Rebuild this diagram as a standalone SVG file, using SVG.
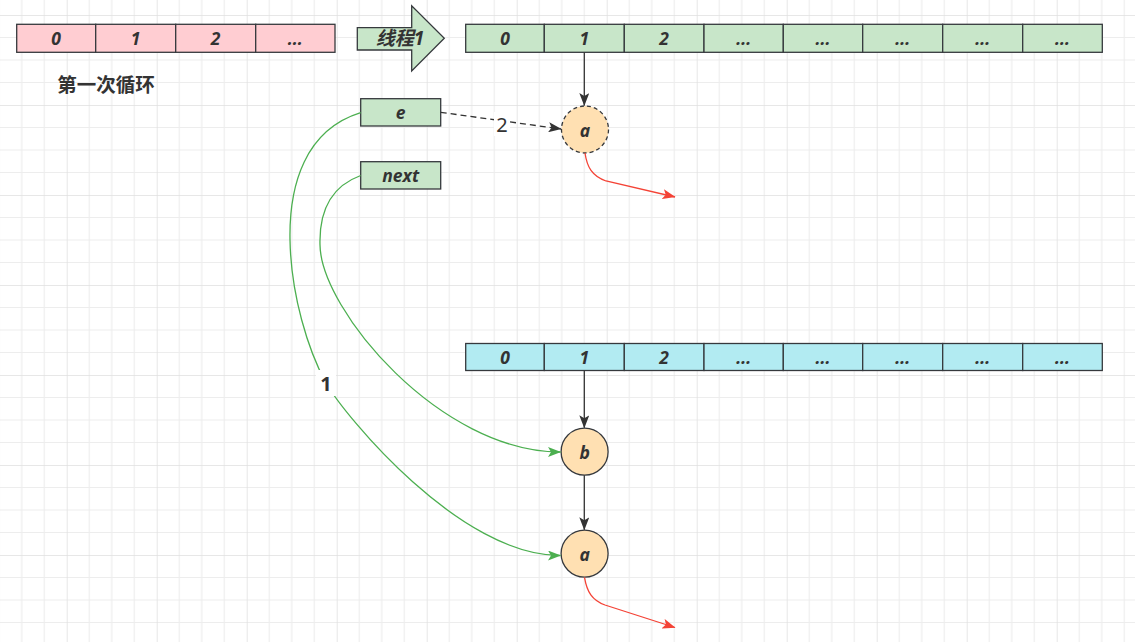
<svg xmlns="http://www.w3.org/2000/svg" width="1135" height="642" viewBox="0 0 1135 642">
<defs>
<pattern id="grid" patternUnits="userSpaceOnUse" x="-23.3" y="15" width="90" height="90">
<path d="M22.5,0V90M45,0V90M67.5,0V90M0,22.5H90M0,45H90M0,67.5H90" stroke="#ededed" stroke-width="1.2" fill="none"/>
<path d="M0,0V90M0,0H90" stroke="#e0e0e0" stroke-width="1.5" fill="none"/>
</pattern>
<marker id="ab" viewBox="0 0 13 10" refX="12.5" refY="5" markerWidth="13" markerHeight="10" markerUnits="userSpaceOnUse" orient="auto">
<path d="M0,0L13,5L0,10L3,5Z" fill="#333"/>
</marker>
<marker id="ag" viewBox="0 0 13 10" refX="12.5" refY="5" markerWidth="13" markerHeight="10" markerUnits="userSpaceOnUse" orient="auto">
<path d="M0,0L13,5L0,10L3,5Z" fill="#4caf50"/>
</marker>
<marker id="ar" viewBox="0 0 13 10" refX="12.5" refY="5" markerWidth="13" markerHeight="10" markerUnits="userSpaceOnUse" orient="auto">
<path d="M0,0L13,5L0,10L3,5Z" fill="#f44336"/>
</marker>
</defs>
<style>
.cell{stroke:#36393d;stroke-width:1.3}
.pink{fill:#ffcdd2}
.green{fill:#c8e6c9}
.cyan{fill:#b2ebf2}
.node{fill:#ffe0b2;stroke:#36393d;stroke-width:1.3}
.t{font-family:"Noto Sans","Noto Sans CJK SC",sans-serif;font-size:17.5px;font-weight:bold;font-style:italic;fill:#333;text-anchor:middle;dominant-baseline:central}
.lbl{font-family:"Noto Sans","Noto Sans CJK SC",sans-serif;font-size:20px;fill:#333;text-anchor:middle;dominant-baseline:central}
.e{fill:none;stroke-width:1.3}
</style>
<rect width="1135" height="642" fill="#fff"/>
<rect width="1135" height="642" fill="url(#grid)"/>

<g id="arr-first">
<rect class="cell pink" x="16.7" y="24.3" width="79" height="28"/>
<rect class="cell pink" x="95.7" y="24.3" width="80" height="28"/>
<rect class="cell pink" x="175.7" y="24.3" width="80" height="28"/>
<rect class="cell pink" x="255.7" y="24.3" width="79.3" height="28"/>
<text class="t" x="56.2" y="38.3">0</text>
<text class="t" x="135.7" y="38.3">1</text>
<text class="t" x="215.7" y="38.3">2</text>
<text class="t" x="295.3" y="38.3">...</text>
</g>

<g id="title">
<text x="106" y="83" style="font-family:'Noto Sans CJK SC',sans-serif;font-size:19.5px;font-weight:bold;fill:#333;text-anchor:middle;dominant-baseline:central">第一次循环</text>
</g>

<g id="thread-arrow">
<polygon class="cell green" points="357.3,27.7 411.7,27.7 411.7,5.7 444.3,38.3 411.7,71 411.7,50 357.3,50"/>
<text class="t" x="400" y="38.3" style="font-size:19px">线程1</text>
</g>

<g id="arr-top">
<rect class="cell green" x="465.7" y="24.3" width="78.6" height="28"/>
<rect class="cell green" x="544.3" y="24.3" width="80" height="28"/>
<rect class="cell green" x="624.3" y="24.3" width="79.7" height="28"/>
<rect class="cell green" x="704" y="24.3" width="79.3" height="28"/>
<rect class="cell green" x="783.3" y="24.3" width="79.4" height="28"/>
<rect class="cell green" x="862.7" y="24.3" width="80" height="28"/>
<rect class="cell green" x="942.7" y="24.3" width="80" height="28"/>
<rect class="cell green" x="1022.7" y="24.3" width="79.6" height="28"/>
<text class="t" x="505" y="38.3">0</text>
<text class="t" x="584.3" y="38.3">1</text>
<text class="t" x="664.2" y="38.3">2</text>
<text class="t" x="743.7" y="38.3">...</text>
<text class="t" x="823" y="38.3">...</text>
<text class="t" x="902.7" y="38.3">...</text>
<text class="t" x="982.7" y="38.3">...</text>
<text class="t" x="1062.5" y="38.3">...</text>
</g>

<g id="arr-bottom">
<rect class="cell cyan" x="465.7" y="343.5" width="78.6" height="27"/>
<rect class="cell cyan" x="544.3" y="343.5" width="80" height="27"/>
<rect class="cell cyan" x="624.3" y="343.5" width="79.7" height="27"/>
<rect class="cell cyan" x="704" y="343.5" width="79.3" height="27"/>
<rect class="cell cyan" x="783.3" y="343.5" width="79.4" height="27"/>
<rect class="cell cyan" x="862.7" y="343.5" width="80" height="27"/>
<rect class="cell cyan" x="942.7" y="343.5" width="80" height="27"/>
<rect class="cell cyan" x="1022.7" y="343.5" width="79.6" height="27"/>
<text class="t" x="505" y="357">0</text>
<text class="t" x="584.3" y="357">1</text>
<text class="t" x="664.2" y="357">2</text>
<text class="t" x="743.7" y="357">...</text>
<text class="t" x="823" y="357">...</text>
<text class="t" x="902.7" y="357">...</text>
<text class="t" x="982.7" y="357">...</text>
<text class="t" x="1062.5" y="357">...</text>
</g>

<g id="var-e">
<rect class="cell green" x="360.7" y="98.7" width="80" height="27.3"/>
<text class="t" x="400.7" y="112.3">e</text>
</g>
<g id="var-next">
<rect class="cell green" x="360.7" y="161.7" width="80" height="27.3"/>
<text class="t" x="400.7" y="175.3">next</text>
</g>

<g id="node-a-top">
<circle class="node" cx="585" cy="129.5" r="23.5" stroke-dasharray="4 3"/>
<text class="t" x="585" y="129.5">a</text>
</g>
<g id="node-b">
<circle class="node" cx="584.6" cy="451.7" r="23.5"/>
<text class="t" x="584.6" y="451.7">b</text>
</g>
<g id="node-a-bottom">
<circle class="node" cx="584.6" cy="553.6" r="23.5"/>
<text class="t" x="584.6" y="553.6">a</text>
</g>

<g id="connectors">
<path class="e" stroke="#333" d="M584.3,52.5V105.5" marker-end="url(#ab)"/>
<path class="e" stroke="#333" d="M584.3,370.5V427.8" marker-end="url(#ab)"/>
<path class="e" stroke="#333" d="M584.3,475.3V529.8" marker-end="url(#ab)"/>
<path class="e" stroke="#333" stroke-dasharray="6 4" d="M440.7,112.3L561,129" marker-end="url(#ab)"/>
<rect x="494" y="112" width="16" height="24" fill="#fff"/>
<text class="lbl" x="502" y="124">2</text>
<path class="e" stroke="#f44336" d="M585,153C587,167 592,176 606,181L675,197" marker-end="url(#ar)"/>
<path class="e" stroke="#f44336" d="M584.5,577.3C587,592 592,600 605,605L675,627.5" marker-end="url(#ar)"/>
<path class="e" stroke="#4caf50" d="M360.7,175.5C332,186 319,210 320,245C321,310 440,452 560.5,452" marker-end="url(#ag)"/>
<path class="e" stroke="#4caf50" d="M360.7,112.7C305,130 289,185 290,240C291,295 308,350 326,383C345,416 460,556 560.5,555.5" marker-end="url(#ag)"/>
<rect x="316" y="370" width="20" height="26" fill="#fff"/>
<text class="lbl" x="326" y="383" style="font-weight:bold">1</text>
</g>
</svg>
